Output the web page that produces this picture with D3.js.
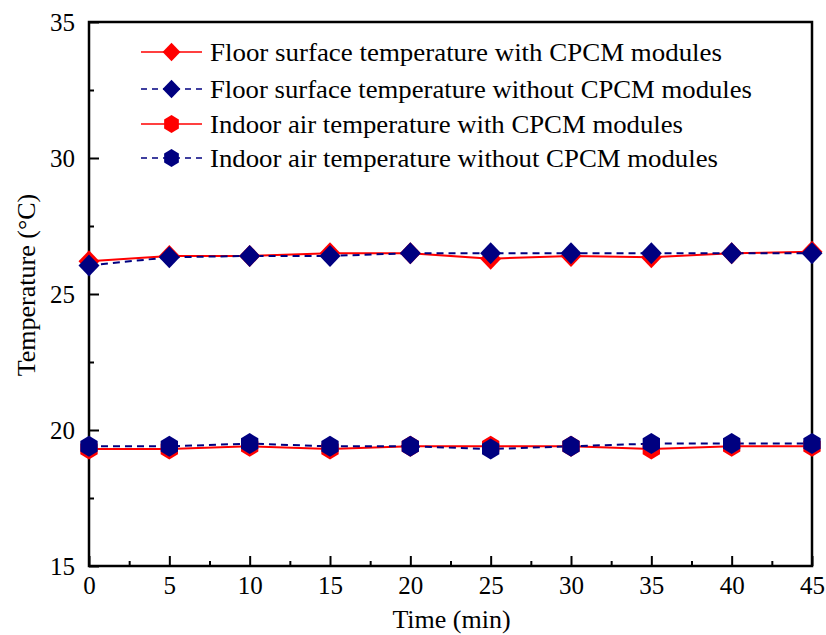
<!DOCTYPE html>
<html>
<head>
<meta charset="utf-8">
<script src="https://cdn.jsdelivr.net/npm/d3@7"></script>
<style>
  body { margin: 0; background: #fff; }
  svg text { font-family: "Liberation Serif", "Times New Roman", serif; fill: #000; }
</style>
</head>
<body>
<script>
//chart panel size
var w = 826, h = 635;

//time axis (min)
var times = [0, 5, 10, 15, 20, 25, 30, 35, 40, 45];

//temperatures
var floorWith = [26.2, 26.4, 26.4, 26.5, 26.5, 26.3, 26.4, 26.35, 26.5, 26.55];
var floorWithout = [26.05, 26.35, 26.4, 26.4, 26.5, 26.5, 26.5, 26.5, 26.5, 26.5];
var airWith = [19.3, 19.3, 19.4, 19.3, 19.4, 19.4, 19.4, 19.3, 19.4, 19.4];
var airWithout = [19.4, 19.4, 19.5, 19.4, 19.4, 19.3, 19.4, 19.5, 19.5, 19.5];

//tick labels
var xTicks = [0, 5, 10, 15, 20, 25, 30, 35, 40, 45];
var xMinor = [2.5, 7.5, 12.5, 17.5, 22.5, 27.5, 32.5, 37.5, 42.5];
var yTicks = [15, 20, 25, 30, 35];
var yMinor = [17.5, 22.5, 27.5, 32.5];

var seriesNames = [
    "Floor surface temperature with CPCM modules",
    "Floor surface temperature without CPCM modules",
    "Indoor air temperature with CPCM modules",
    "Indoor air temperature without CPCM modules"
];

var red = "#ff0000", navy = "#000080";

var series = [
    { name: seriesNames[0], values: floorWith, color: red, dashed: false, shape: "diamond" },
    { name: seriesNames[1], values: floorWithout, color: navy, dashed: true, shape: "diamond" },
    { name: seriesNames[2], values: airWith, color: red, dashed: false, shape: "hex" },
    { name: seriesNames[3], values: airWithout, color: navy, dashed: true, shape: "hex" }
];

//plot box (named so they don't clash with window.top)
var pLeft = 89, pRight = 812, pTop = 22, pBottom = 566;

var x = d3.scaleLinear().domain([0, 45]).range([pLeft, pRight]);
var y = d3.scaleLinear().domain([15, 35]).range([pBottom, pTop]);

var svg = d3.select("body").append("svg")
    .attr("width", w)
    .attr("height", h)
    .attr("class", "container");

//marker paths
function markerPath(shape){
    if (shape === "diamond") {
        return "M0,-11L10.5,0L0,11L-10.5,0Z";
    }
    var pts = [];
    for (var k = 0; k < 6; k++) {
        var a = Math.PI / 2 + k * Math.PI / 3;
        pts.push([10 * Math.cos(a), -10.5 * Math.sin(a)]);
    }
    return "M" + pts.join("L") + "Z";
}

//axes, ticks point inward
svg.append("g")
    .attr("class", "xAxis")
    .attr("transform", "translate(0," + pBottom + ")")
    .call(d3.axisBottom(x).tickValues(xTicks).tickSize(-10).tickPadding(10).tickFormat(d3.format("d")));

svg.append("g")
    .attr("class", "xAxisMinor")
    .attr("transform", "translate(0," + pBottom + ")")
    .call(d3.axisBottom(x).tickValues(xMinor).tickSize(-5).tickFormat(""));

svg.append("g")
    .attr("class", "yAxis")
    .attr("transform", "translate(" + pLeft + ",0)")
    .call(d3.axisLeft(y).tickValues(yTicks).tickSize(-10).tickPadding(14).tickFormat(d3.format("d")));

svg.append("g")
    .attr("class", "yAxisMinor")
    .attr("transform", "translate(" + pLeft + ",0)")
    .call(d3.axisLeft(y).tickValues(yMinor).tickSize(-5).tickFormat(""));

svg.selectAll(".domain").remove();
svg.selectAll(".tick line").attr("stroke", "#000").attr("stroke-width", 2);
svg.selectAll(".tick text").style("font-size", "25px");

//frame
svg.append("rect")
    .attr("class", "frame")
    .attr("x", pLeft)
    .attr("y", pTop)
    .attr("width", pRight - pLeft)
    .attr("height", pBottom - pTop)
    .style("fill", "none")
    .style("stroke", "#000")
    .style("stroke-width", 2.5);

//lines
var line = d3.line()
    .x(function(d, i){ return x(times[i]); })
    .y(function(d){ return y(d); });

var plot = svg.append("g").attr("class", "plot");

series.forEach(function(s){
    plot.append("path")
        .datum(s.values)
        .attr("class", "line")
        .attr("d", line)
        .style("fill", "none")
        .style("stroke", s.color)
        .style("stroke-width", 2)
        .style("stroke-dasharray", s.dashed ? "7,5" : null);
});

series.forEach(function(s){
    plot.selectAll(".pt")
        .data(s.values)
        .enter()
        .append("path")
        .attr("d", markerPath(s.shape))
        .attr("transform", function(d, i){
            return "translate(" + x(times[i]) + "," + y(d) + ")";
        })
        .style("fill", s.color);
});

//legend
var legendY = [52, 89, 124, 158];
var legendW = [512, 542, 473, 508];

var legend = svg.selectAll(".legendRow")
    .data(series)
    .enter()
    .append("g")
    .attr("class", "legendRow")
    .attr("transform", function(d, i){
        return "translate(0," + legendY[i] + ")";
    });

legend.append("line")
    .attr("x1", 141)
    .attr("x2", 202)
    .style("stroke", function(d){ return d.color; })
    .style("stroke-width", 1.5)
    .style("stroke-dasharray", function(d){ return d.dashed ? "6,5" : null; });

legend.append("path")
    .attr("d", function(d){ return markerPath(d.shape); })
    .attr("transform", "translate(171.5,0) scale(0.85)")
    .style("fill", function(d){ return d.color; });

legend.append("text")
    .attr("x", 210)
    .attr("y", 9)
    .attr("textLength", function(d, i){ return legendW[i]; })
    .attr("lengthAdjust", "spacingAndGlyphs")
    .style("font-size", "26px")
    .text(function(d){ return d.name; });

//axis titles
svg.append("text")
    .attr("class", "xTitle")
    .attr("text-anchor", "middle")
    .attr("x", (pLeft + pRight) / 2 + 1)
    .attr("y", 628)
    .style("font-size", "26px")
    .text("Time (min)");

svg.append("text")
    .attr("class", "yTitle")
    .attr("text-anchor", "middle")
    .attr("transform", "translate(35,285) rotate(-90)")
    .style("font-size", "26px")
    .text("Temperature (°C)");
</script>
</body>
</html>
